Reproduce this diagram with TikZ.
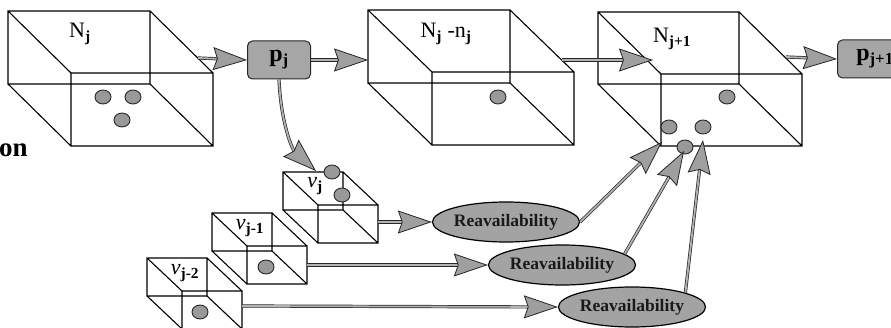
\documentclass[tikz,border=0pt]{standalone}
\usepackage{fontspec}
\setmainfont{Liberation Serif}
\usetikzlibrary{arrows.meta,shapes.geometric}

% wireframe cuboid: name, x, y, width, height, dx, dy
\newcommand{\wirebox}[7]{%
  \begin{scope}[shift={(#2,#3)}]
    \draw[wire] (0,0) rectangle (#4,#5)
      (#6,#7) rectangle ++(#4,#5)
      (0,0) -- ++(#6,#7) (#4,0) -- ++(#6,#7)
      (0,#5) -- ++(#6,#7) (#4,#5) -- ++(#6,#7);
    \coordinate (#1) at (0,0);
  \end{scope}}

\tikzset{
  wire/.style={draw=black, line width=1.1pt},
  ball/.style={ellipse, minimum width=16pt, minimum height=14pt, inner sep=0pt,
    fill=gray!80, draw=black!85, line width=0.9pt},
  garrow/.style={draw=black!85, line width=0.7pt, double=gray!60, double distance=1.8pt,
    -{Stealth[length=34pt,width=23pt,inset=4pt,fill=gray!75,line width=0.8pt]}},
  pbox/.style={rectangle, rounded corners=5pt, fill=gray!70, draw=black!85,
    line width=1pt, minimum width=63pt, minimum height=38pt, inner sep=0pt,
    font=\fontsize{24}{24}\selectfont\bfseries},
  reav/.style={ellipse, fill=gray!72, draw=black, line width=1.2pt,
    minimum width=128pt, minimum height=40pt, inner sep=0pt,
    font=\fontsize{17.5}{17.5}\selectfont\bfseries, text=black!90},
  lbl/.style={font=\fontsize{22}{22}\selectfont, inner sep=0pt},
  nulbl/.style={font=\fontsize{22}{22}\selectfont, inner sep=0pt}
}

\begin{document}
\begin{tikzpicture}[x=1pt, y=-1pt]
\useasboundingbox (0,0) rectangle (891,328);
\clip (0,0) rectangle (891,328);

% large stock cuboids
\wirebox{boxA}{8}{11}{142}{73}{63}{62}
\wirebox{boxB}{368}{10}{142}{73}{64}{62}
\wirebox{boxC}{598}{12}{141}{72}{63}{62}

% small cohort cuboids
\wirebox{nuA}{283}{172}{60}{38}{35}{33}
\wirebox{nuB}{212}{213}{60}{38}{35}{33}
\wirebox{nuC}{147}{258}{60}{38}{35}{33}

% labels
\node[lbl] (tA) at (80,34) {N\textsubscript{\textbf{j}}};
\node[lbl] (tB) at (446,34) {N\textsubscript{\textbf{j}} -n\textsubscript{\textbf{j}}};
\node[lbl] (tC) at (672,39) {N\textsubscript{\textbf{j+1}}};
\node[nulbl] (tnuA) at (315,186) {\textit{ν}\textsubscript{\textbf{j}}};
\node[nulbl] (tnuB) at (250,228) {\textit{ν}\textsubscript{\textbf{j-1}}};
\node[nulbl] (tnuC) at (185,273) {\textit{ν}\textsubscript{\textbf{j-2}}};
\node[anchor=base west, inner sep=0pt, font=\fontsize{27}{27}\selectfont\bfseries] (cut) at (-1,157) {on};

% balls
\node[ball] (a1) at (103,97) {};
\node[ball] (a2) at (133,97) {};
\node[ball] (a3) at (122,120) {};
\node[ball] (b1) at (498,97) {};
\node[ball] (c1) at (727,97) {};
\node[ball] (c2) at (669,127) {};
\node[ball] (c3) at (703,127) {};
\node[ball] (c4) at (685,147) {};
\node[ball] (n1) at (332,172) {};
\node[ball] (n2) at (342,195) {};
\node[ball] (n3) at (266,267) {};
\node[ball] (n4) at (200,312) {};

% price boxes
\node[pbox] (pj) at (279,60) {p\textsubscript{j}};
\node[pbox, minimum width=75pt, anchor=west] (pk) at (837,59) {p\textsubscript{j+1}};

% reavailability ellipses
\node[reav] (r1) at (506,222) {Reavailability};
\node[reav] (r2) at (562,265) {Reavailability};
\node[reav] (r3) at (632,307) {Reavailability};

% connector end points
\coordinate (aout) at (198,58);
\coordinate (bin) at (368,60);
\coordinate (bout) at (562,60);
\coordinate (cin) at (653,60);
\coordinate (cout) at (786,57);
\coordinate (nuAtop) at (316,171);
\coordinate (nuAout) at (378,222);
\coordinate (nuBout) at (307,265);
\coordinate (nuCout) at (242,306);
\coordinate (cA) at (662,142);
\coordinate (cB) at (684,151);
\coordinate (cC) at (703,140);

% flows
\draw[garrow] (aout) -- (pj.west);
\draw[garrow] (pj.east) -- (bin);
\draw[garrow] (bout) -- (cin);
\draw[garrow] (cout) -- (pk.west);
\draw[garrow] (pj.south) .. controls (281,125) and (293,150) .. (nuAtop);
\draw[garrow] (nuAout) -- (r1.west);
\draw[garrow] (nuBout) -- (r2.west);
\draw[garrow] (nuCout) -- (r3.west);
\draw[garrow] (r1.east) -- (cA);
\draw[garrow] (r2.10) -- (cB);
\draw[garrow] (r3.15) -- (cC);
\end{tikzpicture}
\end{document}
